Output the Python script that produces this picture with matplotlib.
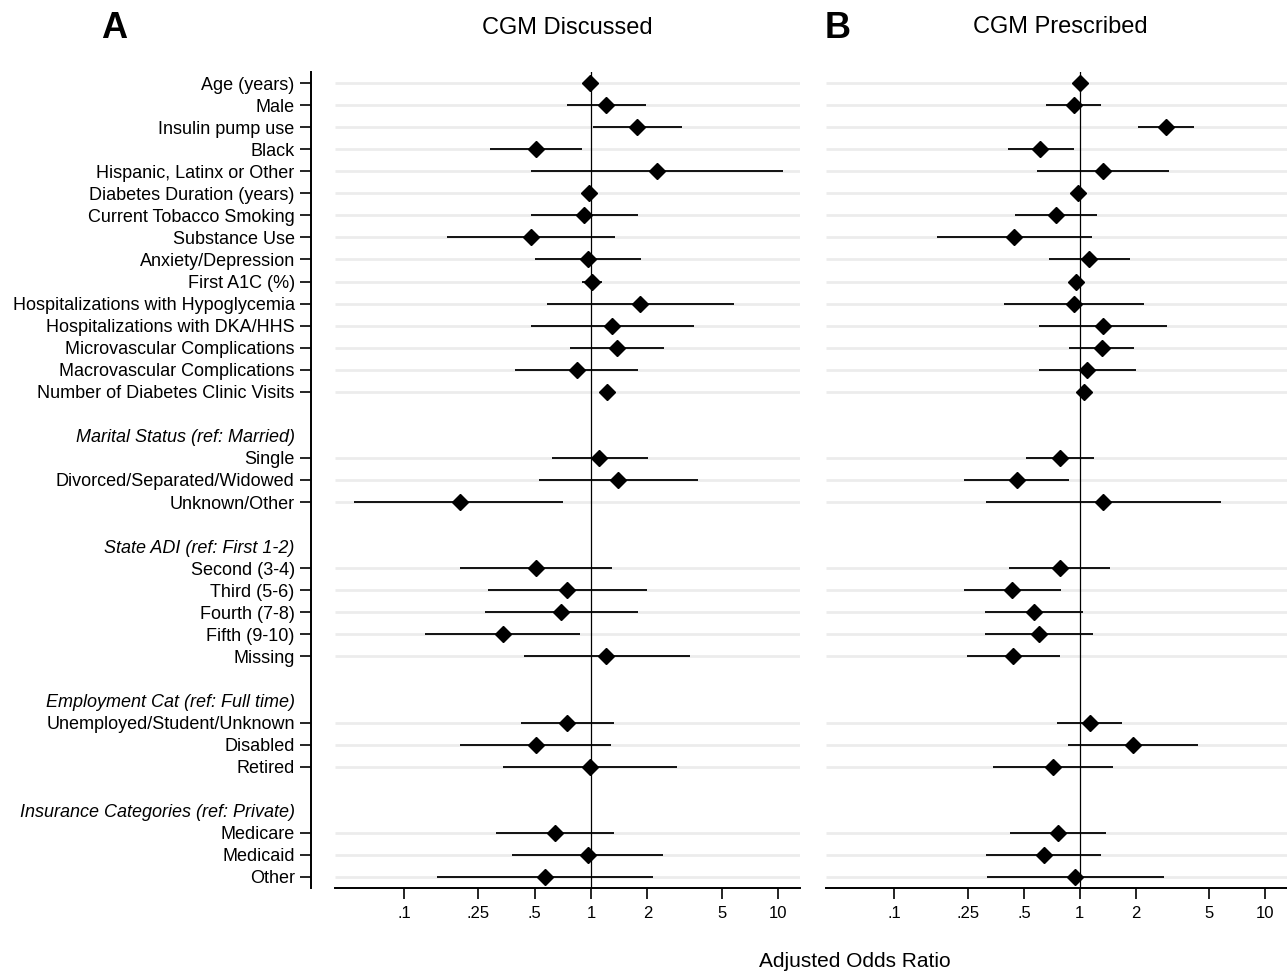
import matplotlib
matplotlib.use('Agg')
import matplotlib.pyplot as plt
import numpy as np
from matplotlib.ticker import NullLocator

plt.rcParams['font.family'] = ['Liberation Sans', 'DejaVu Sans']

# variables listed top to bottom
main_labels = ['Age (years)', 'Male', 'Insulin pump use', 'Black',
               'Hispanic, Latinx or Other', 'Diabetes Duration (years)',
               'Current Tobacco Smoking', 'Substance Use', 'Anxiety/Depression',
               'First A1C (%)', 'Hospitalizations with Hypoglycemia',
               'Hospitalizations with DKA/HHS', 'Microvascular Complications',
               'Macrovascular Complications', 'Number of Diabetes Clinic Visits']
group_headers = ['Marital Status (ref: Married)', 'State ADI (ref: First 1-2)',
                 'Employment Cat (ref: Full time)', 'Insurance Categories (ref: Private)']
group_items = [['Single', 'Divorced/Separated/Widowed', 'Unknown/Other'],
               ['Second (3-4)', 'Third (5-6)', 'Fourth (7-8)', 'Fifth (9-10)', 'Missing'],
               ['Unemployed/Student/Unknown', 'Disabled', 'Retired'],
               ['Medicare', 'Medicaid', 'Other']]

# CGM discussed
disc_or = [0.99, 1.20, 1.77, 0.51, 2.25, 0.98, 0.92, 0.48, 0.96, 1.01, 1.83, 1.30, 1.37, 0.84, 1.22,
           1.11, 1.40, 0.20,
           0.51, 0.74, 0.69, 0.34, 1.21,
           0.74, 0.51, 0.99,
           0.64, 0.96, 0.57]
disc_lo = [0.98, 0.74, 1.03, 0.29, 0.48, 0.97, 0.48, 0.17, 0.50, 0.90, 0.58, 0.48, 0.77, 0.39, 1.19,
           0.62, 0.53, 0.054,
           0.20, 0.28, 0.27, 0.13, 0.44,
           0.42, 0.20, 0.34,
           0.31, 0.38, 0.15]
disc_hi = [1.01, 1.96, 3.05, 0.90, 10.6, 1.00, 1.79, 1.35, 1.84, 1.14, 5.80, 3.54, 2.45, 1.79, 1.25,
           2.01, 3.72, 0.71,
           1.30, 1.99, 1.78, 0.87, 3.40,
           1.33, 1.28, 2.87,
           1.32, 2.42, 2.15]

# CGM prescribed
presc_or = [1.00, 0.93, 2.91, 0.61, 1.33, 0.98, 0.74, 0.44, 1.12, 0.955, 0.93, 1.33, 1.31, 1.10, 1.06,
            0.78, 0.457, 1.34,
            0.778, 0.433, 0.568, 0.605, 0.438,
            1.13, 1.935, 0.716,
            0.762, 0.638, 0.94]
presc_lo = [0.99, 0.66, 2.06, 0.41, 0.59, 0.97, 0.45, 0.17, 0.68, 0.94, 0.39, 0.60, 0.87, 0.60, 1.03,
            0.515, 0.238, 0.311,
            0.417, 0.238, 0.31, 0.31, 0.246,
            0.755, 0.862, 0.342,
            0.422, 0.312, 0.314]
presc_hi = [1.01, 1.30, 4.15, 0.93, 3.01, 0.99, 1.24, 1.16, 1.87, 0.97, 2.22, 2.94, 1.97, 2.00, 1.09,
            1.20, 0.873, 5.78,
            1.46, 0.79, 1.04, 1.18, 0.784,
            1.68, 4.36, 1.51,
            1.38, 1.30, 2.85]

xticks = [0.1, 0.25, 0.5, 1, 2, 5, 10]
xtick_labels = ['.1', '.25', '.5', '1', '2', '5', '10']

# build row positions: data rows and header rows, blank row before each group
data_rows, data_labels, head_rows = [], [], []
r = 0
for lab in main_labels:
    data_rows.append(r); data_labels.append(lab); r += 1
for h, items in zip(group_headers, group_items):
    r += 1
    head_rows.append(r); r += 1
    for lab in items:
        data_rows.append(r); data_labels.append(lab); r += 1
nrows = r

W, H = 1287, 972
fig = plt.figure(figsize=(W / 100, H / 100), dpi=100)
ax1 = fig.add_axes([335 / W, 1 - 888 / H, 465 / W, 816 / H])
ax2 = fig.add_axes([826 / W, 1 - 888 / H, 461 / W, 816 / H])

xlim = (0.0428, 13.1)
for ax, o, lo, hi in [(ax1, disc_or, disc_lo, disc_hi), (ax2, presc_or, presc_lo, presc_hi)]:
    ax.set_xscale('log')
    ax.set_xlim(xlim)
    ax.set_ylim(nrows - 0.5, -0.5)
    ax.hlines(data_rows, xlim[0], xlim[1], color='#ececec', lw=2.0, zorder=0)
    ax.axvline(1, color='black', lw=0.9, zorder=1)
    ax.hlines(data_rows, lo, hi, color='black', lw=1.3, zorder=2)
    ax.plot(o, data_rows, 'D', color='black', ms=8.2, zorder=3, linestyle='none')
    ax.set_xticks(xticks)
    ax.set_xticklabels(xtick_labels)
    ax.xaxis.set_minor_locator(NullLocator())
    ax.tick_params(axis='x', length=8, width=1.2, pad=5, labelsize=12)
    for s in ['top', 'right']:
        ax.spines[s].set_visible(False)
    ax.spines['bottom'].set_linewidth(1.4)

ax1.spines['left'].set_position(('outward', 17))
ax1.spines['left'].set_linewidth(1.4)
ax1.set_yticks(data_rows)
ax1.set_yticklabels(data_labels)
ax1.set_yticks(head_rows, minor=True)
ax1.set_yticklabels(group_headers, minor=True, fontstyle='italic')
ax1.tick_params(axis='y', which='major', length=8, width=1.2, pad=4, labelsize=13)
ax1.tick_params(axis='y', which='minor', length=0, pad=12, labelsize=13)

ax2.spines['left'].set_visible(False)
ax2.set_yticks([])
ax2.tick_params(axis='y', which='both', length=0)

fig.text(567 / W, 1 - 28 / H, 'CGM Discussed', ha='center', va='center', fontsize=17)
fig.text(1060 / W, 1 - 27 / H, 'CGM Prescribed', ha='center', va='center', fontsize=17)
fig.text(114 / W, 1 - 29 / H, 'A', ha='center', va='center', fontsize=26, fontweight='bold')
fig.text(838 / W, 1 - 29 / H, 'B', ha='center', va='center', fontsize=26, fontweight='bold')
fig.text(855 / W, 1 - 961 / H, 'Adjusted Odds Ratio', ha='center', va='center', fontsize=15)

fig.savefig('out.png', dpi=100)
